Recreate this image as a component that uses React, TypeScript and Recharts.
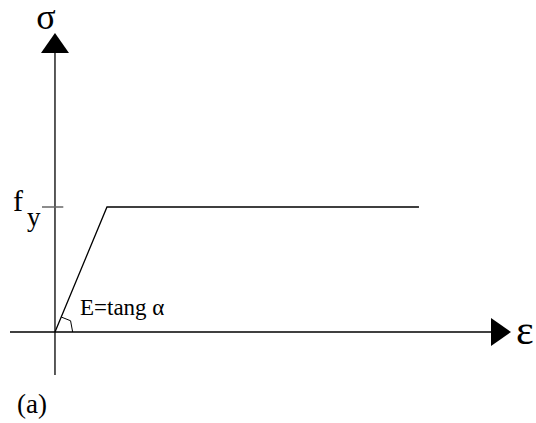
import { ComposedChart, Line, ReferenceLine, XAxis, YAxis } from "recharts";

// stress-strain (elastic, perfectly plastic) in normalized units: strain / eps_y, stress / f_y
const strain = [0, 1, 7];
const stress = [0, 1, 1];
// little angle mark near the origin
const angleStrain = [0.12, 0.3, 0.34];
const angleStress = [0.12, 0.09, 0];

const xDomain = [-0.865, 8.77];
const yDomain = [-0.344, 2.392];

const curve = strain.map((e, i) => ({ e, s: stress[i] }));
const angleMark = angleStrain.map((e, i) => ({ e, s: angleStress[i] }));

const serif = { fontFamily: "'Liberation Serif', 'DejaVu Serif', serif" };

function Arrow(props: any) {
  const { x1, y1, x2, y2 } = props;
  const len = 20;
  const half = 14;
  const dx = x2 - x1;
  const dy = y2 - y1;
  const d = Math.hypot(dx, dy) || 1;
  const ux = dx / d;
  const uy = dy / d;
  const bx = x2 - ux * len;
  const by = y2 - uy * len;
  const pts = `${x2},${y2} ${bx - uy * half},${by + ux * half} ${bx + uy * half},${by - ux * half}`;
  return (
    <g>
      <line x1={x1} y1={y1} x2={bx} y2={by} stroke="#000" strokeWidth={1.3} />
      <polygon points={pts} fill="#000" />
    </g>
  );
}

export default function App() {
  return (
    <div style={{ position: "absolute", left: 0, top: 0, width: 536, height: 423, background: "#fff" }}>
      <ComposedChart width={536} height={423} data={curve} margin={{ top: 33, right: 25, bottom: 48, left: 10 }}>
        <XAxis type="number" dataKey="e" domain={xDomain} hide allowDataOverflow />
        <YAxis type="number" domain={yDomain} hide allowDataOverflow />
        <ReferenceLine segment={[{ x: xDomain[0], y: 0 }, { x: xDomain[1], y: 0 }]} shape={Arrow} ifOverflow="visible" />
        <ReferenceLine segment={[{ x: 0, y: yDomain[0] }, { x: 0, y: yDomain[1] }]} shape={Arrow} ifOverflow="visible" />
        <ReferenceLine segment={[{ x: -0.25, y: 1 }, { x: 0.16, y: 1 }]} stroke="#666" strokeWidth={1.5} ifOverflow="visible" />
        <Line dataKey="s" stroke="#000" strokeWidth={1.3} dot={false} isAnimationActive={false} />
        <Line data={angleMark} dataKey="s" stroke="#000" strokeWidth={1} dot={false} isAnimationActive={false} />
        <text x={46} y={29} style={serif} fontSize={36} textAnchor="middle">σ</text>
        <text x={13} y={211} style={serif} fontSize={30}>f</text>
        <text x={27} y={226} style={serif} fontSize={27}>y</text>
        <text x={80} y={315} style={serif} fontSize={23}>E=tang α</text>
        <text x={516} y={344} style={serif} fontSize={42}>ε</text>
        <text x={17} y={413} style={serif} fontSize={27}>(a)</text>
      </ComposedChart>
    </div>
  );
}
